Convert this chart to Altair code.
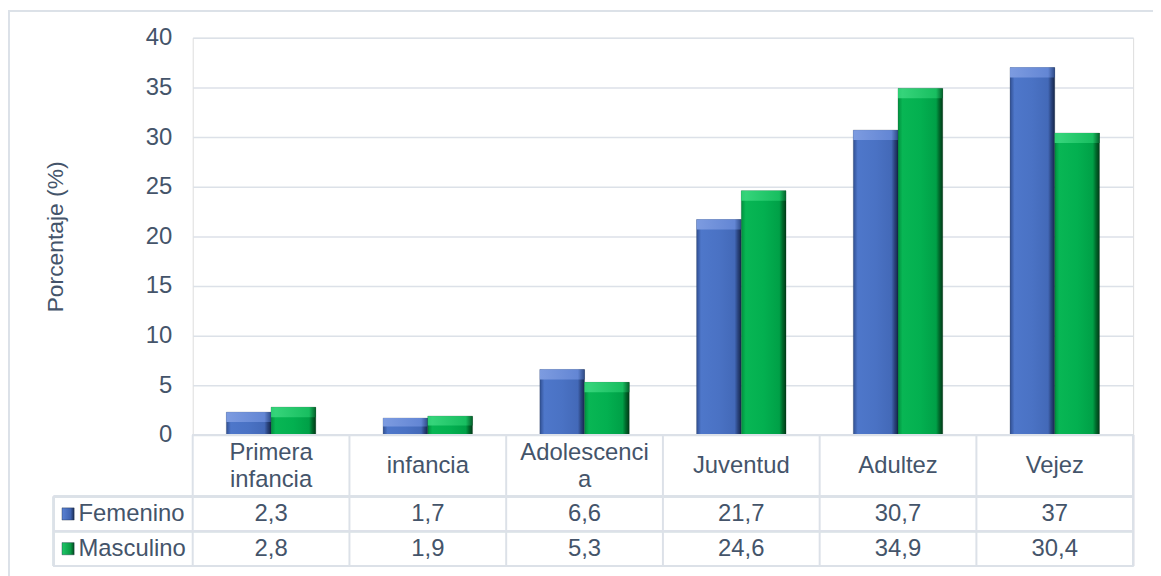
import altair as alt
import pandas as pd

# ---------------- data ----------------
categories = ["Primera infancia", "infancia", "Adolescencia", "Juventud", "Adultez", "Vejez"]
header_labels = ["Primera\ninfancia", "infancia", "Adolescenci\na", "Juventud", "Adultez", "Vejez"]
series = ["Femenino", "Masculino"]
femenino = [2.3, 1.7, 6.6, 21.7, 30.7, 37]
masculino = [2.8, 1.9, 5.3, 24.6, 34.9, 30.4]
y_ticks = [0, 5, 10, 15, 20, 25, 30, 35, 40]

rows = []
for s, vals in zip(series, [femenino, masculino]):
    for c, v in zip(categories, vals):
        rows.append({"cat": c, "serie": s, "value": v,
                     "label": f"{v:g}".replace(".", ",")})
df = pd.DataFrame(rows)
df_cat = pd.DataFrame({"cat": categories, "header": header_labels,
                       "multi": ["\n" in h for h in header_labels]})
df_leg = pd.DataFrame({"serie": series})

FONT = "Liberation Sans"
FS = 24
TXT = "#44546A"
LINE = "#DCE1E8"
W, H = 947, 400

x_scale = alt.Scale(domain=categories, paddingInner=0, paddingOuter=0)
xo_scale = alt.Scale(domain=series, paddingInner=0, paddingOuter=0.752)
y_scale = alt.Scale(domain=[0, 40], nice=False)


def grad(stops, vertical=False):
    return alt.Gradient(
        gradient="linear",
        x1=0, x2=0 if vertical else 1, y1=0, y2=1 if vertical else 0,
        stops=[alt.GradientStop(offset=o, color=c) for o, c in stops],
    )


body = {
    "Femenino": grad([(0, "#304F92"), (0.1, "#4E77CA"), (0.5, "#4A72C4"),
                      (0.85, "#4369B8"), (0.92, "#2B4580"), (1, "#15264A")]),
    "Masculino": grad([(0, "#00903E"), (0.1, "#08B654"), (0.5, "#03B050"),
                       (0.85, "#00A047"), (0.92, "#006A2C"), (1, "#003A16")]),
}
cap = {
    "Femenino": grad([(0, "#7C9BE0"), (0.1, "#7A99DF"), (0.85, "#6386D4"),
                      (1, "#2E4A86")]),
    "Masculino": grad([(0, "#2ECF74"), (0.1, "#35D47A"), (0.85, "#18BE60"),
                       (1, "#04602A")]),
}
leg_col = {"Femenino": grad([(0, "#5A82D4"), (0.7, "#3F63B0"), (1, "#1B2D55")]),
           "Masculino": grad([(0, "#1FC868"), (0.7, "#0A9A45"), (1, "#024A1E")])}

base = alt.Chart(df)
x_enc = alt.X("cat:N", scale=x_scale, axis=None, sort=categories)
xo_enc = alt.XOffset("serie:N", scale=xo_scale, sort=series)

layers = []

# grid / y axis carrier
axis_layer = base.mark_bar(opacity=0).encode(
    x=x_enc, xOffset=xo_enc,
    y=alt.Y("value:Q", scale=y_scale,
            axis=alt.Axis(values=y_ticks, grid=True, gridColor=LINE, gridWidth=1.5,
                          domain=False, ticks=False, labelPadding=21,
                          labelFont=FONT, labelFontSize=FS, labelColor=TXT,
                          title="Porcentaje (%)", titleFont=FONT, titleFontSize=23,
                          titleFontWeight="normal", titleColor=TXT,
                          titleX=-138, titleY=200, titleAngle=-90,
                          titleBaseline="middle", titleAlign="center")),
)
layers.append(axis_layer)

for s in series:
    layers.append(
        base.transform_filter(alt.datum.serie == s).mark_bar(
            color=body[s], stroke="#1B2A40" if s == "Femenino" else "#06351A",
            strokeWidth=0.4, strokeOpacity=0.6
        ).encode(x=x_enc, xOffset=xo_enc, y=alt.Y("value:Q", scale=y_scale), y2=alt.datum(0))
    )
    layers.append(
        base.transform_filter(alt.datum.serie == s)
        .transform_calculate(capb="datum.value - min(1.0, datum.value / 2)")
        .mark_bar(color=cap[s])
        .encode(x=x_enc, xOffset=xo_enc,
                y=alt.Y("value:Q", scale=y_scale), y2=alt.Y2("capb:Q"))
    )

# ---------------- data table ----------------
tbl_vlines = alt.Chart(df_cat).mark_rule(color=LINE, strokeWidth=2).encode(
    x=alt.X("cat:N", scale=x_scale, axis=None, sort=categories, bandPosition=0),
    y=alt.value(400), y2=alt.value(532))
tbl_right = alt.Chart(df_cat).mark_rule(color=LINE, strokeWidth=2).encode(
    x=alt.value(W), y=alt.value(400), y2=alt.value(532))
tbl_left = alt.Chart(df_cat).mark_rule(color=LINE, strokeWidth=2).encode(
    x=alt.value(-140), y=alt.value(462), y2=alt.value(532))
tbl_top = alt.Chart(df_cat).mark_rule(color=LINE, strokeWidth=2).encode(
    x=alt.value(0), x2=alt.value(W), y=alt.value(400))
tbl_h = [alt.Chart(df_cat).mark_rule(color=LINE, strokeWidth=2).encode(
    x=alt.value(-140), x2=alt.value(W), y=alt.value(yy)) for yy in (462, 497, 532)]

headers = []
for multi, yy in ((False, 431), (True, 418.5)):
    headers.append(alt.Chart(df_cat).transform_filter(
        alt.datum.multi == multi).mark_text(
        font=FONT, fontSize=FS, color=TXT, lineBreak="\n", lineHeight=27,
        baseline="middle", align="center"
    ).encode(x=alt.X("cat:N", scale=x_scale, axis=None, sort=categories),
             y=alt.value(yy), text="header:N"))

vals = []
for s, yy in zip(series, (479.5, 514.5)):
    vals.append(
        base.transform_filter(alt.datum.serie == s).mark_text(
            font=FONT, fontSize=FS, color=TXT, baseline="middle", align="center"
        ).encode(x=alt.X("cat:N", scale=x_scale, axis=None, sort=categories),
                 y=alt.value(yy), text="label:N")
    )

leg = []
for s, yy in zip(series, (479.5, 514.5)):
    leg.append(alt.Chart(df_leg).transform_filter(alt.datum.serie == s).mark_square(
        size=150, color=leg_col[s], opacity=1, stroke="#1a2a40", strokeWidth=0.4
    ).encode(x=alt.value(-125.5), y=alt.value(yy)))
    leg.append(alt.Chart(df_leg).transform_filter(alt.datum.serie == s).mark_text(
        font=FONT, fontSize=FS, color=TXT, baseline="middle", align="left"
    ).encode(x=alt.value(-115), y=alt.value(yy), text="serie:N"))

# outer frame
frame_top = alt.Chart(df_cat).mark_rule(color=LINE, strokeWidth=1.5).encode(
    x=alt.value(-185.5), x2=alt.value(W + 30), y=alt.value(-27.2))
frame_left = alt.Chart(df_cat).mark_rule(color=LINE, strokeWidth=1.5).encode(
    x=alt.value(-185.2), y=alt.value(-27.5), y2=alt.value(H + 150))

chart = alt.layer(
    *layers, tbl_vlines, tbl_right, tbl_left, tbl_top, *tbl_h,
    *headers, *vals, *leg, frame_top, frame_left
).properties(
    width=W, height=H,
    autosize=alt.AutoSizeParams(type="none"),
    padding={"left": 186, "top": 28, "right": 20, "bottom": 140},
).configure_view(stroke=None).configure(background="white")

chart.save("out.html", embed_options={"renderer": "svg", "actions": False})
